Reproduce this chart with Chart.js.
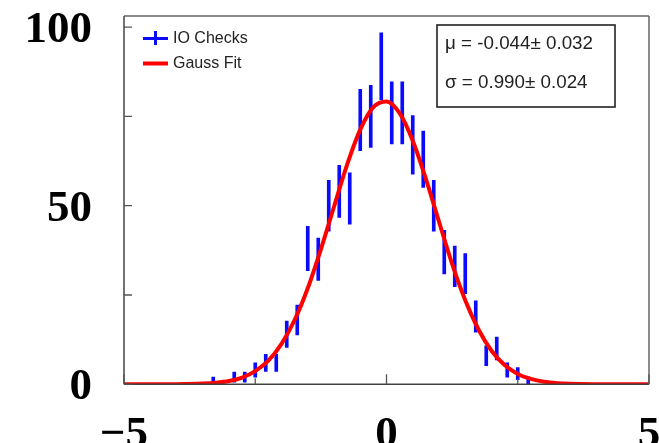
<!DOCTYPE html>
<html>
<head>
<meta charset="utf-8">
<script src="https://cdn.jsdelivr.net/npm/chart.js@4.4.1/dist/chart.umd.min.js"></script>
<style>
  html, body { margin: 0; padding: 0; background: #ffffff; }
  #wrap { position: relative; width: 659px; height: 443px; overflow: hidden; }
  canvas { display: block; }
</style>
</head>
<body>
<div id="wrap"><canvas id="c" width="659" height="443"></canvas></div>
<script>
// ---- Histogram "IO Checks" (bin centres, counts, error half-lengths) ----
const binCenters = [-3.3, -2.9, -2.7, -2.5, -2.3, -2.1, -1.9, -1.7, -1.5, -1.3, -1.1, -0.9, -0.7, -0.5, -0.3, -0.1,
                    0.1, 0.3, 0.5, 0.7, 0.9, 1.1, 1.3, 1.5, 1.7, 1.9, 2.1, 2.3, 2.5, 2.7];
const binCounts  = [1, 2, 2, 4, 6, 6, 14, 18, 38, 35, 50, 54, 52, 74, 75, 89,
                    76, 76, 67, 63, 50, 37, 33, 31, 19, 8, 10, 4, 3, 1];
const binErrors  = [1.0, 1.4, 1.4, 2.0, 2.4, 2.4, 3.7, 4.2, 6.2, 5.9, 7.1, 7.3, 7.2, 8.6, 8.7, 9.4,
                    8.7, 8.7, 8.2, 7.9, 7.1, 6.1, 5.7, 5.6, 4.4, 2.8, 3.2, 2.0, 1.7, 1.0];

// ---- Gauss fit curve ----
const fitX = [-5, -4.5, -4, -3.5, -3.25, -3, -2.75, -2.5, -2.25, -2, -1.75, -1.5, -1.25, -1, -0.75, -0.5, -0.25, 0,
              0.25, 0.5, 0.75, 1, 1.25, 1.5, 1.75, 2, 2.25, 2.5, 2.75, 3, 3.25, 3.5, 4, 4.5, 5];
const fitY = [0, 0, 0.03, 0.2, 0.42, 0.9, 1.9, 3.7, 6.6, 11.3, 18.0, 26.9, 37.8, 49.7, 61.5, 71.3, 77.6, 79.2,
              75.9, 68.2, 57.5, 45.5, 33.7, 23.5, 15.4, 9.4, 5.4, 2.9, 1.5, 0.7, 0.31, 0.13, 0.02, 0, 0];

// ---- Axes ----
const xRange = [-5, 5];
const yRange = [0, 103.1];
const xTicks = [-5, -2.5, 0, 2.5, 5];
const yTicks = [0, 25, 50, 75, 100];
const xLabelled = [-5, 0, 5];
const yLabelled = [0, 50, 100];

// ---- Texts ----
const legendLabels = ['IO Checks', 'Gauss Fit'];
const statsLines = ['\u03bc = -0.044\u00b1 0.032', '\u03c3 = 0.990\u00b1 0.024'];

const errorBarData = binCenters.map((x, i) => ({ x: x, y: [binCounts[i] - binErrors[i], binCounts[i] + binErrors[i]] }));
const fitData = fitX.map((x, i) => ({ x: x, y: fitY[i] }));

const BLUE = '#0a0aff';
const RED = '#ff0000';

const framePlugin = {
  id: 'rootFrame',
  afterDatasetsDraw(chart) {
    const ctx = chart.ctx;
    const a = chart.chartArea;
    const xs = chart.scales.x, ys = chart.scales.y;
    ctx.save();
    ctx.lineCap = 'butt';
    ctx.lineWidth = 1.5;
    ctx.strokeStyle = '#666';
    ctx.beginPath();
    ctx.moveTo(a.left, a.top); ctx.lineTo(a.right, a.top);
    ctx.moveTo(a.right, a.top); ctx.lineTo(a.right, a.bottom);
    ctx.stroke();
    ctx.strokeStyle = '#444';
    ctx.beginPath();
    ctx.moveTo(a.left, a.top); ctx.lineTo(a.left, a.bottom);
    ctx.moveTo(a.left, a.bottom); ctx.lineTo(a.right, a.bottom);
    ctx.stroke();
    ctx.strokeStyle = '#555';
    ctx.lineWidth = 1.3;
    ctx.beginPath();
    ys.ticks.forEach(t => {
      const py = ys.getPixelForValue(t.value);
      ctx.moveTo(a.left, py); ctx.lineTo(a.left + 8, py);
    });
    xs.ticks.forEach(t => {
      const px = xs.getPixelForValue(t.value);
      const len = (t.value % 5 === 0) ? 10 : 6;
      ctx.moveTo(px, a.bottom); ctx.lineTo(px, a.bottom - len);
    });
    ctx.stroke();
    ctx.restore();
  },
  afterDraw(chart) {
    const ctx = chart.ctx;
    ctx.save();
    ctx.font = '16px "Liberation Sans", Arial, sans-serif';
    ctx.fillStyle = '#222';
    ctx.textBaseline = 'middle';
    ctx.textAlign = 'left';
    ctx.strokeStyle = BLUE;
    ctx.lineWidth = 3;
    ctx.beginPath();
    ctx.moveTo(143, 38.5); ctx.lineTo(168, 38.5);
    ctx.moveTo(155.5, 31); ctx.lineTo(155.5, 45);
    ctx.stroke();
    ctx.fillText(legendLabels[0], 173, 39);
    ctx.strokeStyle = RED;
    ctx.lineWidth = 4;
    ctx.beginPath();
    ctx.moveTo(143, 63.5); ctx.lineTo(168, 63.5);
    ctx.stroke();
    ctx.fillText(legendLabels[1], 173, 64);

    ctx.fillStyle = '#ffffff';
    ctx.fillRect(437, 25, 178, 82);
    ctx.strokeStyle = '#222';
    ctx.lineWidth = 1.6;
    ctx.strokeRect(437, 25, 178, 82);
    ctx.fillStyle = '#222';
    ctx.font = '18.8px "Liberation Sans", Arial, sans-serif';
    ctx.fillText(statsLines[0], 445, 44);
    ctx.fillText(statsLines[1], 445, 82.5);
    ctx.restore();
  }
};

const tickFont = { family: '"Liberation Serif", "Times New Roman", serif', size: 45, weight: 'bold' };
const noPad = s => { s.paddingTop = 0; s.paddingBottom = 0; s.paddingLeft = 0; s.paddingRight = 0; };

new Chart(document.getElementById('c'), {
  data: {
    datasets: [
      {
        type: 'line',
        label: legendLabels[1],
        data: fitData,
        borderColor: RED,
        backgroundColor: RED,
        borderWidth: 4,
        pointRadius: 0,
        cubicInterpolationMode: 'monotone',
        fill: false,
        order: 1
      },
      {
        type: 'bar',
        label: legendLabels[0],
        data: errorBarData,
        backgroundColor: BLUE,
        borderWidth: 0,
        barThickness: 3,
        grouped: false,
        order: 2
      }
    ]
  },
  options: {
    responsive: false,
    animation: false,
    devicePixelRatio: 1,
    layout: { padding: { top: 16, right: 10, left: 0, bottom: 0 }, autoPadding: false },
    plugins: { legend: { display: false }, tooltip: { enabled: false } },
    scales: {
      x: {
        type: 'linear',
        offset: false,
        min: xRange[0], max: xRange[1],
        grid: { display: false, drawTicks: false, offset: false },
        border: { display: false },
        afterBuildTicks: s => { s.ticks = xTicks.map(v => ({ value: v })); },
        ticks: {
          autoSkip: false,
          maxRotation: 0,
          padding: 24,
          color: '#000',
          font: tickFont,
          callback: v => xLabelled.includes(v) ? (v < 0 ? '\u2212' + Math.abs(v) : String(v)) : ''
        },
        afterFit: s => { s.height = 58.7; noPad(s); }
      },
      y: {
        type: 'linear',
        min: yRange[0], max: yRange[1],
        grid: { display: false, drawTicks: false },
        border: { display: false },
        afterBuildTicks: s => { s.ticks = yTicks.map(v => ({ value: v })); },
        ticks: {
          autoSkip: false,
          padding: 32,
          labelOffset: 3.5,
          color: '#000',
          font: tickFont,
          callback: v => yLabelled.includes(v) ? String(v) : ''
        },
        afterFit: s => { s.width = 124; noPad(s); }
      }
    }
  },
  plugins: [framePlugin]
});
</script>
</body>
</html>
